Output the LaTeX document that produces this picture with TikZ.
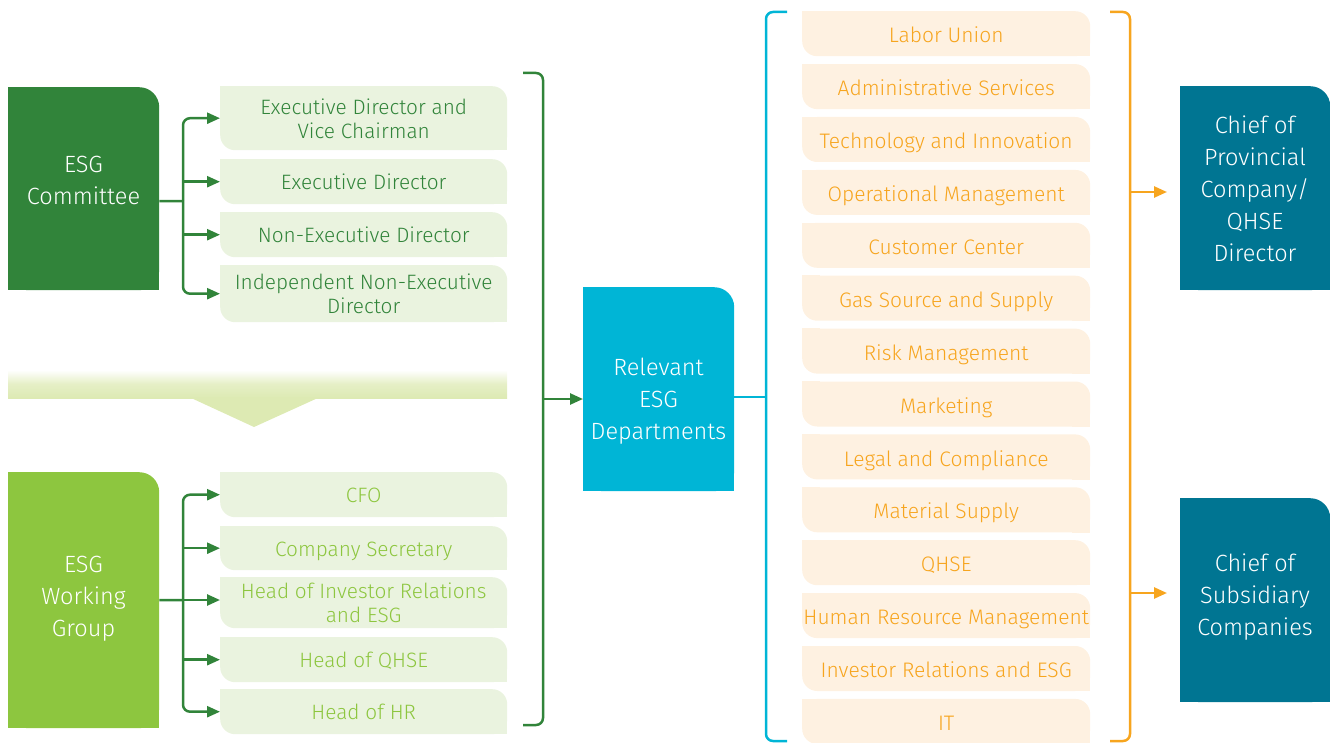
\documentclass[tikz,border=0pt]{standalone}
\usepackage{fontspec}
\setmainfont{Fira Sans Light}
\usetikzlibrary{arrows.meta}
\pgfdeclarelayer{background}
\pgfsetlayers{background,main}
\definecolor{dkgreen}{HTML}{31843A}
\definecolor{ltgreen}{HTML}{8DC63F}
\definecolor{gfill}{HTML}{EAF3DF}
\definecolor{band}{HTML}{DDEAB3}
\definecolor{cyanc}{HTML}{00B5D6}
\definecolor{tealc}{HTML}{007592}
\definecolor{orangec}{HTML}{F7A51E}
\definecolor{ofill}{HTML}{FEF1E1}
\newcommand\smallsharp[2]{%
  \fill[#2] (#1.north west) rectangle ([xshift=18pt,yshift=-18pt]#1.north west);
  \fill[#2] (#1.south east) rectangle ([xshift=-18pt,yshift=18pt]#1.south east);}
\newcommand\bigsharp[2]{%
  \fill[#2] (#1.south west) rectangle ([xshift=-26pt]#1.north east);
  \fill[#2] (#1.south west) rectangle ([yshift=-26pt]#1.north east);}
\begin{document}
\begin{tikzpicture}[x=1pt,y=-1pt,
  bigbox/.style={anchor=north west, inner sep=0, minimum width=151, rounded corners=20},
  btext/.style={inner sep=0, align=center, text=white, font=\fontsize{23.5}{32}\selectfont},
  gbox/.style={anchor=north west, inner sep=0, minimum width=287, fill=gfill, rounded corners=15, align=center, font=\fontsize{20.8}{24}\selectfont},
  oneline/.style={text height=16.3pt, text depth=0pt},
  obox/.style={anchor=north west, inner sep=0, minimum width=288, minimum height=45, fill=ofill, text=orangec, rounded corners=15, font=\fontsize{21}{24}\selectfont, text height=18.2pt, text depth=0pt},
  gline/.style={draw=dkgreen, line width=2.5},
  cline/.style={draw=cyanc, line width=2.5},
  oline/.style={draw=orangec, line width=2.5},
  tip/.style={-{Triangle[length=13pt,width=11pt]}}
]
\useasboundingbox (0,0) rectangle (1330,743);

% ---------- big boxes ----------
\node[bigbox, fill=dkgreen, minimum height=203] (esgc) at (8,87) {};
\node[bigbox, fill=ltgreen, minimum height=256] (esgw) at (8,472) {};
\node[bigbox, fill=cyanc, minimum height=204] (rel) at (583,287) {};
\node[bigbox, fill=tealc, minimum height=204, minimum width=150] (chief1) at (1180,86) {};
\node[bigbox, fill=tealc, minimum height=204, minimum width=150] (chief2) at (1180,498) {};

\node[btext] (esgct) at (83.5,180) {ESG\\Committee};
\node[btext] (esgwt) at (83.5,599) {ESG\\Working\\Group};
\node[btext] (relt) at (658.5,401) {Relevant\\ESG\\Departments};
\node[btext] (chief1t) at (1255,189) {Chief of\\Provincial\\Company/\\QHSE\\Director};
\node[btext] (chief2t) at (1255,597.5) {Chief of\\Subsidiary\\Companies};

% ---------- left green boxes ----------
\node[gbox, text=dkgreen, minimum height=64] (g1) at (220,86) {\rule{0pt}{17pt}Executive Director and\\Vice Chairman};
\node[gbox, oneline, text=dkgreen, minimum height=45] (g2) at (220,159) {Executive Director};
\node[gbox, oneline, text=dkgreen, minimum height=45] (g3) at (220,212) {Non-Executive Director};
\node[gbox, text=dkgreen, minimum height=57] (g4) at (220,265) {Independent Non-Executive\\Director};

\node[gbox, oneline, text=ltgreen, minimum height=45] (w1) at (220,472) {CFO};
\node[gbox, oneline, text=ltgreen, minimum height=44] (w2) at (220,526) {Company Secretary};
\node[gbox, text=ltgreen, minimum height=51] (w3) at (220,577) {Head of Investor Relations\\and ESG};
\node[gbox, oneline, text=ltgreen, minimum height=45] (w4) at (220,637) {Head of QHSE};
\node[gbox, oneline, text=ltgreen, minimum height=45] (w5) at (220,689) {Head of HR};

% ---------- orange boxes ----------
\foreach \t [count=\i from 0] in {Labor Union, Administrative Services, Technology and Innovation, Operational Management, Customer Center, Gas Source and Supply, Risk Management, Marketing, Legal and Compliance, Material Supply, QHSE, Human Resource Management, Investor Relations and ESG, IT}{
  \node[obox] (o\i) at (802,{11+52.9*\i}) {\t};
}

% ---------- corner patches (background) ----------
\begin{pgfonlayer}{background}
  \bigsharp{esgc}{dkgreen}
  \bigsharp{esgw}{ltgreen}
  \bigsharp{rel}{cyanc}
  \bigsharp{chief1}{tealc}
  \bigsharp{chief2}{tealc}
  \foreach \n in {g1,g2,g3,g4,w1,w2,w3,w4,w5}{\smallsharp{\n}{gfill}}
  \foreach \i in {0,...,13}{\smallsharp{o\i}{ofill}}
  % gradient band and pointer
  \shade[top color=white, bottom color=band, middle color=band!75] (8,370) rectangle (507,398);
  \fill[band] (190,397.5) -- (319,397.5) -- (254,427) -- cycle;
\end{pgfonlayer}

% ---------- committee connectors ----------
\coordinate (c1) at (183,201);
\draw[gline] ([yshift=-12.5pt]esgc.east) -- (c1);
\draw[gline, tip, rounded corners=7] (c1) |- (g1.west);
\draw[gline, tip, rounded corners=7] (c1) |- (g4.west);
\draw[gline, tip] (c1 |- g2.west) -- (g2.west);
\draw[gline, tip] (c1 |- g3.west) -- (g3.west);

% ---------- working group connectors ----------
\coordinate (c2) at (183,600);
\draw[gline] (esgw.east) -- (c2);
\draw[gline, tip, rounded corners=7] (c2) |- (w1.west);
\draw[gline, tip, rounded corners=7] (c2) |- (w5.west);
\draw[gline, tip] (c2 |- w2.west) -- (w2.west);
\draw[gline, tip] (c2) -- (c2 -| w3.west);
\draw[gline, tip] (c2 |- w4.west) -- (w4.west);

% ---------- big green bracket ----------
\coordinate (gb1) at (523,73);
\coordinate (gb2) at (543,73);
\coordinate (gb3) at (543,725);
\coordinate (gb4) at (523,725);
\draw[gline, rounded corners=7] (gb1) -- (gb2) -- (gb3) -- (gb4);
\coordinate (ga) at (543,399);
\draw[gline, tip] (ga) -- (ga -| rel.west);

% ---------- cyan bracket ----------
\coordinate (cb1) at (787,12);
\coordinate (cb2) at (766,12);
\coordinate (cb3) at (766,741);
\coordinate (cb4) at (787,741);
\draw[cline, rounded corners=7] (cb1) -- (cb2) -- (cb3) -- (cb4);
\coordinate (cy) at (766,397);
\draw[cline] (rel.east |- cy) -- (cy);

% ---------- orange bracket ----------
\coordinate (ob1) at (1110,12);
\coordinate (ob2) at (1130,12);
\coordinate (ob3) at (1130,741);
\coordinate (ob4) at (1110,741);
\draw[oline, rounded corners=7] (ob1) -- (ob2) -- (ob3) -- (ob4);
\coordinate (oa1) at (1130,192);
\coordinate (oa2) at (1130,593);
\draw[oline, tip, shorten >=13pt] (oa1) -- (oa1 -| chief1.west);
\draw[oline, tip, shorten >=13pt] (oa2) -- (oa2 -| chief2.west);
\end{tikzpicture}
\end{document}
